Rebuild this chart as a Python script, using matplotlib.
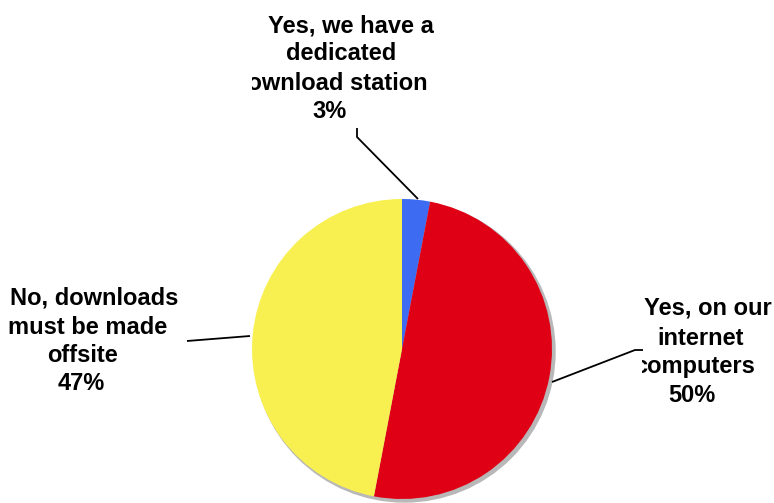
import matplotlib.pyplot as plt
from matplotlib.patches import Circle
from matplotlib.transforms import Bbox, TransformedBbox

plt.rcParams['font.family'] = ['Liberation Sans', 'DejaVu Sans']

labels = [['Yes, we have a', 'dedicated', 'download station'],
          ['Yes, on our', 'internet', 'computers'],
          ['No, downloads', 'must be made', 'offsite']]
shares = [3, 50, 47]
colors = ['#3d6cf2', '#e00016', '#f8f050']

W, H = 774, 503
fig = plt.figure(figsize=(W / 100, H / 100), dpi=100)
ax = fig.add_axes([0, 0, 1, 1])


def py(y):
    # pixel row (from top) -> data y
    return H - y


cx, cy, r = 402, py(349), 150

# soft drop shadow under the pie
ax.add_patch(Circle((cx + 2.5, cy - 2.5), r + 0.5, color='#b8b8b8', zorder=1))
ax.pie(shares, colors=colors, startangle=90, counterclock=False,
       center=(cx, cy), radius=r, frame=True,
       wedgeprops=dict(linewidth=0))
for w in ax.patches[1:]:
    w.set_zorder(2)
ax.set_xlim(0, W)
ax.set_ylim(0, H)
ax.axis('off')

txt = dict(fontsize=17, fontweight='bold', va='baseline', color='black', zorder=5)


def clip_x(x0, x1):
    return TransformedBbox(Bbox.from_extents(x0, 0, x1, H), ax.transData)


# per-line anchor (x, baseline row, alignment) for each label block
layout = [
    [(351, 32, 'center'), (341, 60, 'center'), (428, 90, 'right'), (330, 118, 'center')],
    [(708, 315, 'center'), (701, 345, 'center'), (755, 373, 'right'), (692, 402, 'center')],
    [(94, 305, 'center'), (88, 334, 'center'), (82, 362, 'center'), (81, 390, 'center')],
]
clip_left = [252, 642, 0]

for lines, share, pos, x0 in zip(labels, shares, layout, clip_left):
    for line, (x, y, ha) in zip(lines + [f'{share}%'], pos):
        t = ax.text(x, py(y), line, ha=ha, **txt)
        t.set_clip_box(clip_x(x0, W))
        t.set_clip_on(True)

# leader lines
lk = dict(color='black', lw=1.3, zorder=4, solid_capstyle='butt')
ax.plot([357, 357, 418], [py(128), py(137), py(199)], **lk)
ax.plot([643, 635, 552], [py(350), py(350), py(382)], **lk)
ax.plot([187, 250], [py(341), py(336)], **lk)

fig.savefig('out.png', dpi=100)
